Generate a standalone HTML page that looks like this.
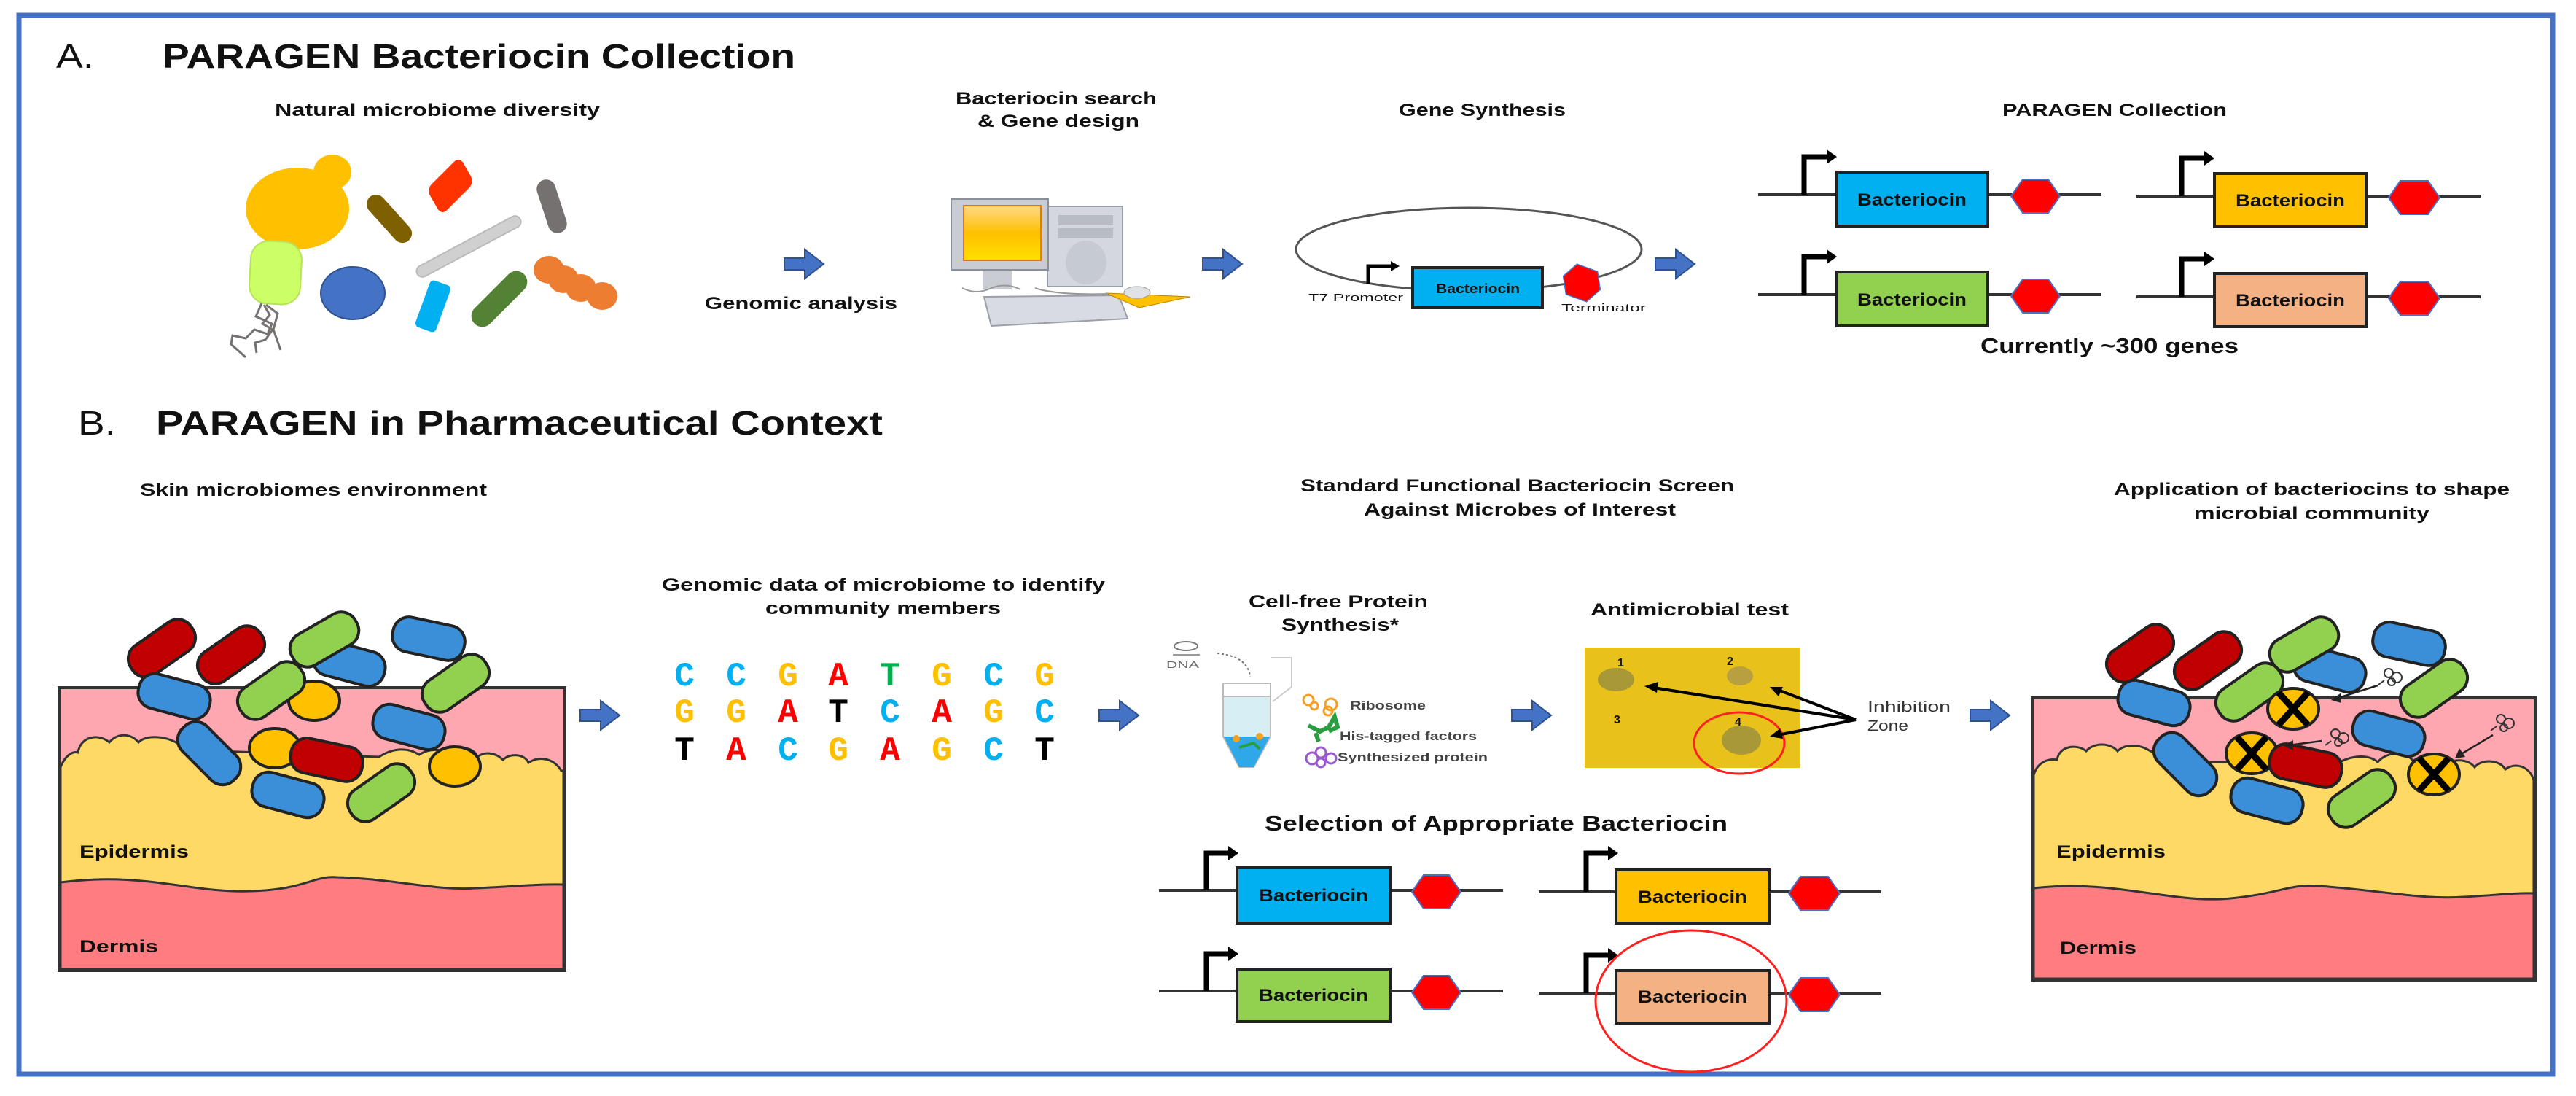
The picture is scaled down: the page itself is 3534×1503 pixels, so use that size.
<!DOCTYPE html>
<html><head><meta charset="utf-8"><style>
html,body{margin:0;padding:0;background:#fff;}
svg{display:block;}
text{font-family:"Liberation Sans",sans-serif;font-weight:bold;fill:#111;}
.d{font-family:"Liberation Mono",monospace;font-weight:bold;font-size:46px;text-anchor:middle;}
</style></head><body>
<svg width="3534" height="1503" viewBox="0 0 3534 1503" xmlns="http://www.w3.org/2000/svg">
<defs>
<g id="cap"><rect x="-50" y="-24" width="100" height="48" rx="22" stroke="#222" stroke-width="4"/></g>
<g id="arr"><polygon points="0,12 28,12 28,0 54,20 28,40 28,28 0,28" fill="#4472c4" stroke="#2f528f" stroke-width="2"/></g>
<g id="xc"><ellipse rx="35" ry="28" fill="#ffc000" stroke="#222" stroke-width="4"/><path d="M-20,-22 L20,22 M20,-22 L-20,22" stroke="#000" stroke-width="9"/></g>
<g id="prot" fill="none" stroke="#333" stroke-width="2"><circle cx="-6" cy="-4" r="6"/><circle cx="5" cy="2" r="7"/><circle cx="-2" cy="8" r="5"/><path d="M-12,6 l-8,6"/></g>
</defs>
<rect x="0" y="0" width="3534" height="1503" fill="#fff"/>
<rect x="26" y="21" width="3476" height="1452" fill="none" stroke="#4472c4" stroke-width="7"/>

<!-- Headers -->
<text x="77" y="93" font-size="46" style="font-weight:normal" textLength="52" lengthAdjust="spacingAndGlyphs">A.</text>
<text x="223" y="93" font-size="46" textLength="868" lengthAdjust="spacingAndGlyphs">PARAGEN Bacteriocin Collection</text>
<text x="107" y="596" font-size="46" style="font-weight:normal" textLength="52" lengthAdjust="spacingAndGlyphs">B.</text>
<text x="214" y="596" font-size="46" textLength="997" lengthAdjust="spacingAndGlyphs">PARAGEN in Pharmaceutical Context</text>

<!-- A labels -->
<text x="377" y="159" font-size="24" textLength="446" lengthAdjust="spacingAndGlyphs">Natural microbiome diversity</text>
<text x="1311" y="143" font-size="24" textLength="276" lengthAdjust="spacingAndGlyphs">Bacteriocin search</text>
<text x="1341" y="174" font-size="24" textLength="222" lengthAdjust="spacingAndGlyphs">&amp; Gene design</text>
<text x="967" y="424" font-size="24" textLength="264" lengthAdjust="spacingAndGlyphs">Genomic analysis</text>
<text x="1919" y="159" font-size="24" textLength="229" lengthAdjust="spacingAndGlyphs">Gene Synthesis</text>
<text x="2747" y="159" font-size="24" textLength="308" lengthAdjust="spacingAndGlyphs">PARAGEN Collection</text>
<text x="2717" y="484" font-size="29" textLength="354" lengthAdjust="spacingAndGlyphs">Currently ~300 genes</text>

<!-- microbes A -->
<ellipse cx="408" cy="286" rx="71" ry="56" fill="#ffc000"/>
<ellipse cx="456" cy="236" rx="26" ry="24" fill="#ffc000"/>
<rect x="-40" y="-13" width="80" height="26" rx="13" fill="#7f6000" transform="translate(534,300) rotate(48)"/>
<rect x="-32" y="-20" width="64" height="40" rx="10" fill="#ff3300" transform="translate(618,255) rotate(-45) skewX(-15)"/>
<rect x="-38" y="-13" width="76" height="26" rx="13" fill="#767171" transform="translate(757,283) rotate(72)"/>
<rect x="-80" y="-8" width="160" height="16" rx="8" fill="#d0d0d0" stroke="#bbb" stroke-width="2" transform="translate(643,338) rotate(-28)"/>
<rect x="343" y="331" width="70" height="86" rx="25" fill="#ccff66" stroke="#b6e35a" stroke-width="2" transform="rotate(3,378,374)"/>
<path d="M359,416 l-8,18 l22,10 l-6,14 l-18,-6 l-12,12 l-18,-4 l-2,12 l20,18 M362,418 l8,14 l-10,12 l14,8 l-10,14 l-14,4 l2,14 M365,418 l16,12 l-6,22 l10,28" fill="none" stroke="#767171" stroke-width="3"/>
<ellipse cx="484" cy="402" rx="44" ry="36" fill="#4472c4" stroke="#2f528f" stroke-width="2"/>
<rect x="-34" y="-15" width="68" height="30" rx="6" fill="#00b0f0" transform="translate(594,420) rotate(-70)"/>
<rect x="-48" y="-15" width="96" height="30" rx="15" fill="#548235" transform="translate(685,410) rotate(-45)"/>
<g fill="#ed7d31"><ellipse cx="753" cy="370" rx="21" ry="19"/><ellipse cx="773" cy="383" rx="21" ry="19"/><ellipse cx="797" cy="395" rx="21" ry="19"/><ellipse cx="826" cy="406" rx="21" ry="19"/></g>

<!-- arrows A -->
<use href="#arr" x="1076" y="342"/>
<use href="#arr" x="1650" y="342"/>
<use href="#arr" x="2271" y="342"/>

<!-- computer -->
<rect x="1437" y="283" width="103" height="110" fill="#d4d7dd" stroke="#9aa0aa" stroke-width="2"/>
<rect x="1452" y="295" width="75" height="14" fill="#b8bcc5"/>
<rect x="1452" y="313" width="75" height="14" fill="#b8bcc5"/>
<ellipse cx="1490" cy="360" rx="28" ry="30" fill="#c6cad2"/>
<rect x="1348" y="365" width="40" height="32" fill="#c9ccd3"/>
<rect x="1305" y="273" width="133" height="97" fill="#c9ccd3" stroke="#8a909a" stroke-width="2"/>
<defs><linearGradient id="scr" x1="0" y1="0" x2="0" y2="1"><stop offset="0" stop-color="#ffd98a"/><stop offset="0.5" stop-color="#ffc000"/><stop offset="1" stop-color="#ffe000"/></linearGradient></defs>
<rect x="1322" y="282" width="106" height="75" fill="url(#scr)" stroke="#e07a00" stroke-width="2"/>
<polygon points="1350,407 1535,405 1547,437 1360,447" fill="#d8dbe1" stroke="#9aa0aa" stroke-width="2"/>
<polygon points="1517,402 1633,407 1563,422" fill="#ffc000" stroke="#c08000" stroke-width="1"/>
<ellipse cx="1560" cy="401" rx="18" ry="8" fill="#e0e2e6" stroke="#999" stroke-width="1"/>
<path d="M1320,395 q20,10 40,0 q20,-8 40,2 M1420,395 q30,10 100,8" fill="none" stroke="#999" stroke-width="2"/>

<!-- plasmid -->
<ellipse cx="2015" cy="342" rx="237" ry="57" fill="none" stroke="#555" stroke-width="3"/>
<rect x="1938" y="367" width="178" height="55" fill="#00b0f0" stroke="#222" stroke-width="4"/>
<text x="1970" y="402" font-size="18" textLength="115" lengthAdjust="spacingAndGlyphs">Bacteriocin</text>
<path d="M1877,390 V365 H1910" fill="none" stroke="#000" stroke-width="5"/><polygon points="1908,358 1920,365 1908,372" fill="#000"/>
<polygon points="2155,366 2185,366 2197,388 2185,410 2155,410 2143,388" fill="#ff0000" stroke="#4472c4" stroke-width="1.5" transform="rotate(20,2170,388)"/>
<text x="1795" y="413" font-size="15" style="font-weight:normal" textLength="130" lengthAdjust="spacingAndGlyphs">T7 Promoter</text>
<text x="2142" y="427" font-size="15" style="font-weight:normal" textLength="116" lengthAdjust="spacingAndGlyphs">Terminator</text>

<!-- PARAGEN collection constructs -->
<g stroke="#333" stroke-width="4">
<line x1="2412" y1="267" x2="2883" y2="267"/><line x1="2931" y1="269" x2="3403" y2="269"/>
<line x1="2412" y1="404" x2="2883" y2="404"/><line x1="2931" y1="407" x2="3403" y2="407"/>
</g>
<g fill="none" stroke="#000" stroke-width="7">
<path d="M2475,267 V215 H2510"/><path d="M2993,269 V217 H3028"/>
<path d="M2475,404 V352 H2510"/><path d="M2993,407 V355 H3028"/>
</g>
<g fill="#000"><polygon points="2506,205 2520,215 2506,225"/><polygon points="3024,207 3038,217 3024,227"/><polygon points="2506,342 2520,352 2506,362"/><polygon points="3024,345 3038,355 3024,365"/></g>
<rect x="2520" y="236" width="207" height="74" fill="#00b0f0" stroke="#222" stroke-width="4"/>
<rect x="3038" y="238" width="208" height="73" fill="#ffc000" stroke="#222" stroke-width="4"/>
<rect x="2520" y="373" width="207" height="74" fill="#92d050" stroke="#222" stroke-width="4"/>
<rect x="3038" y="375" width="208" height="73" fill="#f4b183" stroke="#222" stroke-width="4"/>
<g font-size="24">
<text x="2548" y="282" textLength="150" lengthAdjust="spacingAndGlyphs">Bacteriocin</text>
<text x="3067" y="283" textLength="150" lengthAdjust="spacingAndGlyphs">Bacteriocin</text>
<text x="2548" y="419" textLength="150" lengthAdjust="spacingAndGlyphs">Bacteriocin</text>
<text x="3067" y="420" textLength="150" lengthAdjust="spacingAndGlyphs">Bacteriocin</text>
</g>
<g fill="#ff0000" stroke="#4472c4" stroke-width="2">
<polygon points="2759,269 2775,246 2810,246 2826,269 2810,292 2775,292"/>
<polygon points="3277,271 3293,248 3331,248 3347,271 3331,294 3293,294"/>
<polygon points="2759,406 2775,383 2810,383 2826,406 2810,429 2775,429"/>
<polygon points="3277,409 3293,386 3331,386 3347,409 3331,432 3293,432"/>
</g>

<!-- B labels -->
<text x="192" y="680" font-size="24" textLength="476" lengthAdjust="spacingAndGlyphs">Skin microbiomes environment</text>
<text x="1784" y="674" font-size="24" textLength="595" lengthAdjust="spacingAndGlyphs">Standard Functional Bacteriocin Screen</text>
<text x="1871" y="707" font-size="24" textLength="428" lengthAdjust="spacingAndGlyphs">Against Microbes of Interest</text>
<text x="2900" y="679" font-size="24" textLength="543" lengthAdjust="spacingAndGlyphs">Application of bacteriocins to shape</text>
<text x="3010" y="712" font-size="24" textLength="323" lengthAdjust="spacingAndGlyphs">microbial community</text>
<text x="908" y="810" font-size="24" textLength="608" lengthAdjust="spacingAndGlyphs">Genomic data of microbiome to identify</text>
<text x="1050" y="842" font-size="24" textLength="323" lengthAdjust="spacingAndGlyphs">community members</text>
<text x="1713" y="833" font-size="24" textLength="246" lengthAdjust="spacingAndGlyphs">Cell-free Protein</text>
<text x="1758" y="865" font-size="24" textLength="161" lengthAdjust="spacingAndGlyphs">Synthesis*</text>
<text x="2182" y="844" font-size="24" textLength="272" lengthAdjust="spacingAndGlyphs">Antimicrobial test</text>
<text x="1735" y="1139" font-size="29" textLength="635" lengthAdjust="spacingAndGlyphs">Selection of Appropriate Bacteriocin</text>

<!-- left skin -->
<rect x="81" y="943" width="694" height="388" fill="#ffa7b0" stroke="#333" stroke-width="4"/>
<path d="M83,1052 C90,1035 100,1030 107,1032 C110,1010 135,1005 150,1018 C160,1005 180,1005 190,1018 C200,1008 225,1008 245,1020 L300,1030 L520,1038 C540,1025 560,1025 575,1035 C590,1025 610,1027 620,1036 C630,1022 650,1024 655,1038 C665,1030 680,1032 690,1042 C700,1032 720,1034 725,1046 C740,1036 760,1040 770,1057 L773,1057 L773,1329 L83,1329 Z" fill="#ffd966" stroke="#333" stroke-width="3"/>
<path d="M83,1210 C200,1195 260,1225 344,1222 C420,1220 430,1200 463,1203 C540,1205 600,1222 652,1218 C700,1216 740,1212 773,1213 L773,1329 L83,1329 Z" fill="#ff7c80" stroke="#333" stroke-width="3"/>
<rect x="81" y="943" width="694" height="388" fill="none" stroke="#333" stroke-width="4"/>
<g>
<use href="#cap" fill="#c00000" transform="translate(222,889) rotate(-35)"/>
<use href="#cap" fill="#c00000" transform="translate(317,898) rotate(-35)"/>
<use href="#cap" fill="#3a8fd8" transform="translate(479,910) rotate(15)"/>
<use href="#cap" fill="#92d050" transform="translate(445,877) rotate(-30)"/>
<use href="#cap" fill="#3a8fd8" transform="translate(588,876) rotate(12)"/>
<use href="#cap" fill="#3a8fd8" transform="translate(239,955) rotate(15)"/>
<ellipse cx="431" cy="961" rx="35" ry="27" fill="#ffc000" stroke="#222" stroke-width="4"/>
<use href="#cap" fill="#92d050" transform="translate(372,947) rotate(-35)"/>
<use href="#cap" fill="#92d050" transform="translate(625,937) rotate(-35)"/>
<use href="#cap" fill="#3a8fd8" transform="translate(561,997) rotate(15)"/>
<use href="#cap" fill="#3a8fd8" transform="translate(287,1033) rotate(45)"/>
<ellipse cx="377" cy="1026" rx="35" ry="27" fill="#ffc000" stroke="#222" stroke-width="4"/>
<use href="#cap" fill="#c00000" transform="translate(448,1042) rotate(12)"/>
<ellipse cx="624" cy="1051" rx="35" ry="27" fill="#ffc000" stroke="#222" stroke-width="4"/>
<use href="#cap" fill="#3a8fd8" transform="translate(395,1090) rotate(15)"/>
<use href="#cap" fill="#92d050" transform="translate(523,1087) rotate(-35)"/>
</g>
<text x="109" y="1176" font-size="24" textLength="150" lengthAdjust="spacingAndGlyphs">Epidermis</text>
<text x="109" y="1306" font-size="24" textLength="108" lengthAdjust="spacingAndGlyphs">Dermis</text>

<!-- arrows B -->
<use href="#arr" x="796" y="961"/>
<use href="#arr" x="1508" y="961"/>
<use href="#arr" x="2074" y="961"/>
<use href="#arr" x="2703" y="961"/>

<!-- DNA letters -->
<g>
<text class="d" x="939" y="940" style="fill:#00b0f0">C</text>
<text class="d" x="1010" y="940" style="fill:#00b0f0">C</text>
<text class="d" x="1081" y="940" style="fill:#ffc000">G</text>
<text class="d" x="1150" y="940" style="fill:#ff0000">A</text>
<text class="d" x="1221" y="940" style="fill:#00b050">T</text>
<text class="d" x="1292" y="940" style="fill:#ffc000">G</text>
<text class="d" x="1363" y="940" style="fill:#00b0f0">C</text>
<text class="d" x="1433" y="940" style="fill:#ffc000">G</text>
<text class="d" x="939" y="990" style="fill:#ffc000">G</text>
<text class="d" x="1010" y="990" style="fill:#ffc000">G</text>
<text class="d" x="1081" y="990" style="fill:#ff0000">A</text>
<text class="d" x="1150" y="990" style="fill:#000">T</text>
<text class="d" x="1221" y="990" style="fill:#00b0f0">C</text>
<text class="d" x="1292" y="990" style="fill:#ff0000">A</text>
<text class="d" x="1363" y="990" style="fill:#ffc000">G</text>
<text class="d" x="1433" y="990" style="fill:#00b0f0">C</text>
<text class="d" x="939" y="1042" style="fill:#000">T</text>
<text class="d" x="1010" y="1042" style="fill:#ff0000">A</text>
<text class="d" x="1081" y="1042" style="fill:#00b0f0">C</text>
<text class="d" x="1150" y="1042" style="fill:#ffc000">G</text>
<text class="d" x="1221" y="1042" style="fill:#ff0000">A</text>
<text class="d" x="1292" y="1042" style="fill:#ffc000">G</text>
<text class="d" x="1363" y="1042" style="fill:#00b0f0">C</text>
<text class="d" x="1433" y="1042" style="fill:#000">T</text>
</g>

<!-- cell-free synthesis -->
<ellipse cx="1627" cy="886" rx="16" ry="6" fill="none" stroke="#777" stroke-width="2"/>
<line x1="1609" y1="898" x2="1646" y2="898" stroke="#999" stroke-width="2"/>
<text x="1600" y="916" font-size="13" style="font-weight:normal;fill:#666" textLength="45" lengthAdjust="spacingAndGlyphs">DNA</text>
<path d="M1670,896 Q1712,900 1715,928" fill="none" stroke="#777" stroke-width="2" stroke-dasharray="3,3"/>
<path d="M1744,902 h28 v40 l-26,20" fill="none" stroke="#ccc" stroke-width="2"/>
<path d="M1678,937 H1743 V1010 L1720,1052 H1700 L1678,1010 Z" fill="#d8eef5" stroke="#bbb" stroke-width="2"/>
<rect x="1678" y="937" width="65" height="18" fill="#fff" stroke="#bbb" stroke-width="2"/>
<path d="M1679,1010 H1742 L1720,1052 H1700 Z" fill="#2ea8e8"/>
<g fill="#f5a020"><circle cx="1696" cy="1013" r="5"/><circle cx="1728" cy="1010" r="5"/></g>
<path d="M1700,1025 l20,-6 l8,8" stroke="#2a9d40" stroke-width="4" fill="none"/>
<g fill="none" stroke="#f5a020" stroke-width="3"><circle cx="1795" cy="960" r="7"/><circle cx="1803" cy="968" r="5"/><circle cx="1826" cy="966" r="8"/><circle cx="1822" cy="975" r="6"/></g>
<path d="M1795,995 l16,8 l12,-6 l8,-14 l4,14 l-12,6 M1805,1005 l4,12" stroke="#2a9d40" stroke-width="6" fill="none"/>
<g fill="none" stroke="#9b59d0" stroke-width="3"><circle cx="1800" cy="1040" r="8"/><circle cx="1812" cy="1032" r="7"/><circle cx="1812" cy="1046" r="6"/><circle cx="1826" cy="1040" r="7"/></g>
<text x="1852" y="973" font-size="17" style="fill:#444" textLength="104" lengthAdjust="spacingAndGlyphs">Ribosome</text>
<text x="1838" y="1015" font-size="17" style="fill:#444" textLength="188" lengthAdjust="spacingAndGlyphs">His-tagged factors</text>
<text x="1835" y="1044" font-size="17" style="fill:#444" textLength="206" lengthAdjust="spacingAndGlyphs">Synthesized protein</text>

<!-- plate -->
<rect x="2174" y="888" width="295" height="165" fill="#e8c21a"/>
<ellipse cx="2217" cy="932" rx="25" ry="16" fill="#a89838"/>
<ellipse cx="2387" cy="927" rx="18" ry="13" fill="#b8a040"/>
<ellipse cx="2389" cy="1015" rx="27" ry="20" fill="#a89838"/>
<g font-size="16"><text x="2219" y="914">1</text><text x="2369" y="912">2</text><text x="2214" y="992">3</text><text x="2380" y="995">4</text></g>
<ellipse cx="2386" cy="1019" rx="62" ry="42" fill="none" stroke="#ff2020" stroke-width="3"/>
<g stroke="#000" stroke-width="4" fill="none"><line x1="2546" y1="987" x2="2262" y2="942"/><line x1="2546" y1="987" x2="2434" y2="944"/><line x1="2546" y1="987" x2="2434" y2="1009"/></g>
<g fill="#000"><polygon points="2256,941 2275,935 2273,950"/><polygon points="2428,942 2446,942 2440,955"/><polygon points="2428,1010 2442,999 2446,1013"/></g>
<text x="2562" y="976" font-size="20" style="font-weight:normal;fill:#333" textLength="114" lengthAdjust="spacingAndGlyphs">Inhibition</text>
<text x="2562" y="1002" font-size="20" style="font-weight:normal;fill:#333" textLength="56" lengthAdjust="spacingAndGlyphs">Zone</text>

<!-- selection constructs -->
<g stroke="#333" stroke-width="4">
<line x1="1590" y1="1221" x2="2062" y2="1221"/><line x1="2111" y1="1223" x2="2581" y2="1223"/>
<line x1="1590" y1="1359" x2="2062" y2="1359"/><line x1="2111" y1="1362" x2="2581" y2="1362"/>
</g>
<g fill="none" stroke="#000" stroke-width="7">
<path d="M1655,1221 V1170 H1688"/><path d="M2176,1223 V1170 H2209"/>
<path d="M1655,1359 V1308 H1688"/><path d="M2176,1362 V1310 H2209"/>
</g>
<g fill="#000"><polygon points="1685,1160 1699,1170 1685,1180"/><polygon points="2206,1160 2220,1170 2206,1180"/><polygon points="1685,1298 1699,1308 1685,1318"/><polygon points="2206,1300 2220,1310 2206,1320"/></g>
<rect x="1697" y="1190" width="210" height="76" fill="#00b0f0" stroke="#222" stroke-width="4"/>
<rect x="2217" y="1193" width="210" height="73" fill="#ffc000" stroke="#222" stroke-width="4"/>
<rect x="1697" y="1329" width="210" height="72" fill="#92d050" stroke="#222" stroke-width="4"/>
<rect x="2217" y="1331" width="210" height="72" fill="#f4b183" stroke="#222" stroke-width="4"/>
<g font-size="24">
<text x="1727" y="1236" textLength="150" lengthAdjust="spacingAndGlyphs">Bacteriocin</text>
<text x="2247" y="1238" textLength="150" lengthAdjust="spacingAndGlyphs">Bacteriocin</text>
<text x="1727" y="1373" textLength="150" lengthAdjust="spacingAndGlyphs">Bacteriocin</text>
<text x="2247" y="1375" textLength="150" lengthAdjust="spacingAndGlyphs">Bacteriocin</text>
</g>
<g fill="#ff0000" stroke="#4472c4" stroke-width="2">
<polygon points="1937,1223 1953,1200 1988,1200 2004,1223 1988,1246 1953,1246"/>
<polygon points="2454,1225 2470,1202 2508,1202 2524,1225 2508,1248 2470,1248"/>
<polygon points="1937,1361 1953,1338 1988,1338 2004,1361 1988,1384 1953,1384"/>
<polygon points="2454,1364 2470,1341 2508,1341 2524,1364 2508,1387 2470,1387"/>
</g>
<ellipse cx="2320" cy="1373" rx="131" ry="97" fill="none" stroke="#ff2020" stroke-width="3"/>

<!-- right skin -->
<rect x="2788" y="957" width="690" height="387" fill="#ffa7b0" stroke="#333" stroke-width="4"/>
<path d="M2790,1063 C2795,1045 2810,1040 2822,1042 C2825,1022 2850,1020 2862,1030 C2872,1018 2895,1018 2905,1030 C2915,1020 2935,1020 2950,1030 L3000,1045 L3210,1045 C3230,1035 3250,1035 3262,1045 C3275,1030 3300,1030 3310,1043 C3330,1035 3345,1038 3350,1050 C3365,1040 3385,1040 3395,1052 C3405,1040 3430,1042 3437,1055 C3450,1045 3470,1050 3476,1070 L3476,1342 L2790,1342 Z" fill="#ffd966" stroke="#333" stroke-width="3"/>
<path d="M2790,1218 C2900,1205 2980,1240 3060,1232 C3130,1225 3140,1212 3180,1215 C3260,1220 3320,1234 3380,1230 C3420,1228 3450,1224 3476,1225 L3476,1342 L2790,1342 Z" fill="#ff7c80" stroke="#333" stroke-width="3"/>
<rect x="2788" y="957" width="690" height="387" fill="none" stroke="#333" stroke-width="4"/>
<g>
<use href="#cap" fill="#c00000" transform="translate(2936,896) rotate(-35)"/>
<use href="#cap" fill="#c00000" transform="translate(3029,906) rotate(-35)"/>
<use href="#cap" fill="#3a8fd8" transform="translate(3196,918) rotate(15)"/>
<use href="#cap" fill="#92d050" transform="translate(3161,884) rotate(-30)"/>
<use href="#cap" fill="#3a8fd8" transform="translate(3305,883) rotate(12)"/>
<use href="#cap" fill="#3a8fd8" transform="translate(2955,964) rotate(15)"/>
<use href="#cap" fill="#92d050" transform="translate(3086,949) rotate(-35)"/>
<use href="#xc" transform="translate(3146,972)"/>
<use href="#cap" fill="#92d050" transform="translate(3339,944) rotate(-35)"/>
<use href="#cap" fill="#3a8fd8" transform="translate(3277,1006) rotate(15)"/>
<use href="#cap" fill="#3a8fd8" transform="translate(2998,1048) rotate(45)"/>
<use href="#xc" transform="translate(3089,1033)"/>
<use href="#cap" fill="#c00000" transform="translate(3163,1050) rotate(12)"/>
<use href="#xc" transform="translate(3339,1062)"/>
<use href="#cap" fill="#3a8fd8" transform="translate(3110,1098) rotate(15)"/>
<use href="#cap" fill="#92d050" transform="translate(3240,1095) rotate(-35)"/>
</g>
<g stroke="#222" stroke-width="2.5" fill="none"><line x1="3262" y1="940" x2="3205" y2="958"/><line x1="3185" y1="1016" x2="3140" y2="1022"/><line x1="3420" y1="1008" x2="3375" y2="1035"/></g>
<g fill="#222"><polygon points="3198,960 3212,950 3212,964"/><polygon points="3132,1022 3146,1015 3146,1029"/><polygon points="3368,1040 3374,1026 3382,1038"/></g>
<use href="#prot" transform="translate(3283,927)"/>
<use href="#prot" transform="translate(3210,1010)"/>
<use href="#prot" transform="translate(3437,990)"/>
<text x="2821" y="1176" font-size="24" textLength="150" lengthAdjust="spacingAndGlyphs">Epidermis</text>
<text x="2826" y="1308" font-size="24" textLength="105" lengthAdjust="spacingAndGlyphs">Dermis</text>
</svg>
</body></html>
